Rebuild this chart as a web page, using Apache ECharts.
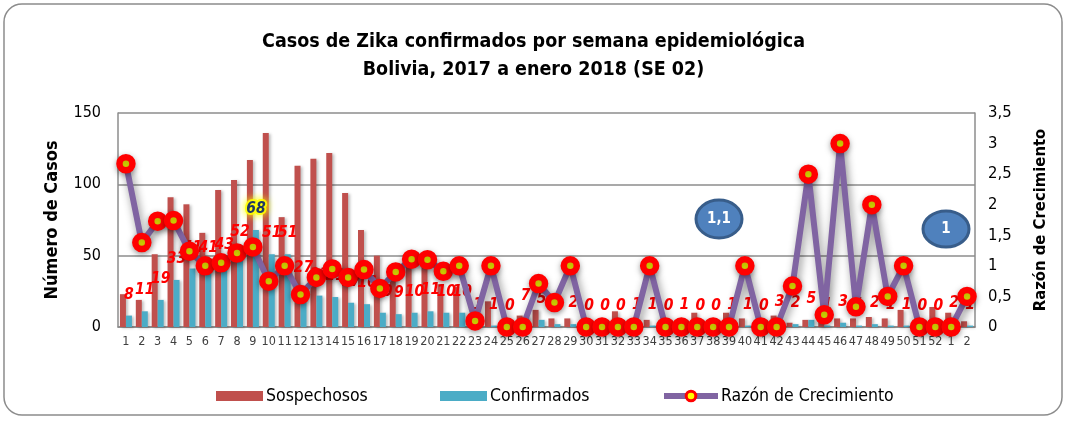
<!DOCTYPE html>
<html>
<head>
<meta charset="utf-8">
<script src="https://cdn.jsdelivr.net/npm/echarts@6/dist/echarts.min.js"></script>
<style>
  html, body { margin: 0; padding: 0; background: #fff; }
  #chart { width: 1067px; height: 421px; }
</style>
</head>
<body>
<div id="chart"></div>
<script>
// semanas epidemiológicas 2017 (1-52) + enero 2018 (1-2)
const semanas = [
  "1", "2", "3", "4", "5", "6", "7", "8", "9", "10",
  "11", "12", "13", "14", "15", "16", "17", "18", "19", "20",
  "21", "22", "23", "24", "25", "26", "27", "28", "29", "30",
  "31", "32", "33", "34", "35", "36", "37", "38", "39", "40",
  "41", "42", "43", "44", "45", "46", "47", "48", "49", "50",
  "51", "52", "1", "2"
];

const sospechosos = [
  23, 19, 51, 91, 86, 66, 96, 103, 117, 136,
  77, 113, 118, 122, 94, 68, 50, 35, 45, 42,
  30, 28, 4, 18, 2, 8, 12, 6, 6, 1,
  1, 11, 2, 5, 1, 2, 10, 1, 10, 6,
  1, 8, 3, 5, 5, 6, 6, 7, 6, 12,
  3, 14, 10, 4
];

const confirmados = [
  8, 11, 19, 33, 41, 41, 43, 52, 68, 51,
  51, 27, 22, 21, 17, 16, 10, 9, 10, 11,
  10, 10, 1, 1, 0, 7, 5, 2, 2, 0,
  0, 0, 1, 1, 0, 1, 0, 0, 1, 1,
  0, 3, 2, 5, 1, 3, 1, 2, 1, 1,
  0, 0, 2, 1
];

const razon = [
  2.67, 1.38, 1.73, 1.74, 1.24, 1.0, 1.05, 1.21, 1.31, 0.75,
  1.0, 0.53, 0.81, 0.95, 0.81, 0.94, 0.63, 0.9, 1.11, 1.1,
  0.91, 1.0, 0.1, 1.0, 0, 0, 0.71, 0.4, 1.0, 0,
  0, 0, 0, 1.0, 0, 0, 0, 0, 0, 1.0,
  0, 0, 0.67, 2.5, 0.2, 3.0, 0.33, 2.0, 0.5, 1.0,
  0, 0, 0, 0.5
];

const pico = 8; // semana 9, etiqueta resaltada

const FONT = "'Liberation Sans Narrow', 'DejaVu Sans Condensed', 'Liberation Sans', sans-serif";
const gris = "#8c8c8c";

const chart = echarts.init(document.getElementById("chart"));

const datosConfirmados = confirmados.map((v, i) =>
  i === pico
    ? {
        value: v,
        label: {
          color: "#1F3864",
          textBorderColor: "rgba(255,255,0,0.85)",
          textBorderWidth: 4,
          textShadowColor: "#FFFF00",
          textShadowBlur: 8
        }
      }
    : v
);

const leyenda = {
  top: 382,
  itemWidth: 47,
  itemHeight: 10,
  textStyle: { fontFamily: FONT, fontSize: 17.5, color: "#000", padding: [0, 0, 0, -2] }
};

chart.setOption({
  animation: false,
  textStyle: { fontFamily: FONT },
  title: {
    text: "Casos de Zika confirmados por semana epidemiológica\nBolivia, 2017 a enero 2018 (SE 02)",
    left: "center",
    top: 23,
    textStyle: {
      fontFamily: FONT,
      fontSize: 19.5,
      fontWeight: "bold",
      color: "#000",
      lineHeight: 28
    }
  },
  grid: { left: 118, right: 92, top: 113, bottom: 94 },
  legend: [
    Object.assign({}, leyenda, { left: 211, data: [{ name: "Sospechosos", icon: "rect" }] }),
    Object.assign({}, leyenda, { left: 435, data: [{ name: "Confirmados", icon: "rect" }] }),
    Object.assign({}, leyenda, {
      left: 656,
      itemWidth: 54,
      itemHeight: 12,
      lineStyle: { width: 6 },
      itemStyle: { borderWidth: 3 },
      data: ["Razón de Crecimiento"]
    })
  ],
  xAxis: {
    type: "category",
    data: semanas,
    axisLine: { lineStyle: { color: gris, width: 1.5 } },
    axisTick: { show: false },
    axisLabel: { interval: 0, fontSize: 12.5, color: "#404040", margin: 8 }
  },
  yAxis: [
    {
      type: "value",
      min: 0,
      max: 150,
      interval: 50,
      name: "Número de Casos",
      nameLocation: "middle",
      nameGap: 57,
      nameTextStyle: { fontSize: 18, fontWeight: "bold", color: "#000" },
      axisLine: { show: true, lineStyle: { color: gris, width: 1.5 } },
      axisTick: { show: false },
      splitLine: { lineStyle: { color: gris, width: 1.5 } },
      axisLabel: { fontSize: 16, color: "#000", margin: 17 }
    },
    {
      type: "value",
      position: "right",
      min: 0,
      max: 3.5,
      interval: 0.5,
      name: "Razón de Crecimiento",
      nameLocation: "middle",
      nameGap: 57,
      nameTextStyle: { fontSize: 16.5, fontWeight: "bold", color: "#000" },
      axisLine: { show: true, lineStyle: { color: gris, width: 1.5 } },
      axisTick: { show: false },
      splitLine: { show: false },
      axisLabel: {
        fontSize: 16.5,
        color: "#000",
        margin: 13,
        formatter: (v) => String(v).replace(".", ",")
      }
    }
  ],
  series: [
    {
      name: "Sospechosos",
      type: "bar",
      data: sospechosos,
      barWidth: 6,
      barGap: "0%",
      itemStyle: {
        color: "#C0504D",
        shadowColor: "rgba(0,0,0,0.25)",
        shadowBlur: 3,
        shadowOffsetX: 2,
        shadowOffsetY: 1
      }
    },
    {
      name: "Confirmados",
      type: "bar",
      data: datosConfirmados,
      barWidth: 6,
      barGap: "0%",
      itemStyle: {
        color: "#4BACC6",
        shadowColor: "rgba(0,0,0,0.25)",
        shadowBlur: 3,
        shadowOffsetX: 2,
        shadowOffsetY: 1
      },
      label: {
        show: true,
        position: "top",
        distance: 13,
        color: "#FF0000",
        fontStyle: "italic",
        fontWeight: "bold",
        fontSize: 15.5,
        fontFamily: FONT
      }
    },
    {
      name: "Razón de Crecimiento",
      type: "line",
      yAxisIndex: 1,
      data: razon,
      symbol: "circle",
      symbolSize: 13,
      lineStyle: {
        color: "#8064A2",
        width: 6,
        shadowColor: "rgba(0,0,0,0.45)",
        shadowBlur: 8,
        shadowOffsetX: 2,
        shadowOffsetY: 4
      },
      itemStyle: {
        color: "#FFFF00",
        borderColor: "#FF0000",
        borderWidth: 6.5,
        shadowColor: "rgba(0,0,0,0.35)",
        shadowBlur: 6,
        shadowOffsetY: 2
      },
      z: 3
    }
  ],
  graphic: [
    {
      type: "rect",
      shape: { x: 4, y: 4, width: 1058, height: 411, r: 18 },
      style: { fill: "none", stroke: gris, lineWidth: 1.5 },
      z: -10
    },
    {
      type: "group",
      children: [
        {
          type: "ellipse",
          shape: { cx: 719, cy: 219, rx: 23, ry: 19 },
          style: { fill: "#4F81BD", stroke: "#385D8A", lineWidth: 3 }
        },
        {
          type: "text",
          x: 719,
          y: 219,
          style: {
            text: "1,1",
            fill: "#fff",
            font: "bold 15px " + FONT,
            textAlign: "center",
            textVerticalAlign: "middle"
          }
        },
        {
          type: "ellipse",
          shape: { cx: 946, cy: 229, rx: 23, ry: 18 },
          style: { fill: "#4F81BD", stroke: "#385D8A", lineWidth: 3 }
        },
        {
          type: "text",
          x: 946,
          y: 229,
          style: {
            text: "1",
            fill: "#fff",
            font: "bold 15px " + FONT,
            textAlign: "center",
            textVerticalAlign: "middle"
          }
        }
      ]
    }
  ]
});
</script>
</body>
</html>
